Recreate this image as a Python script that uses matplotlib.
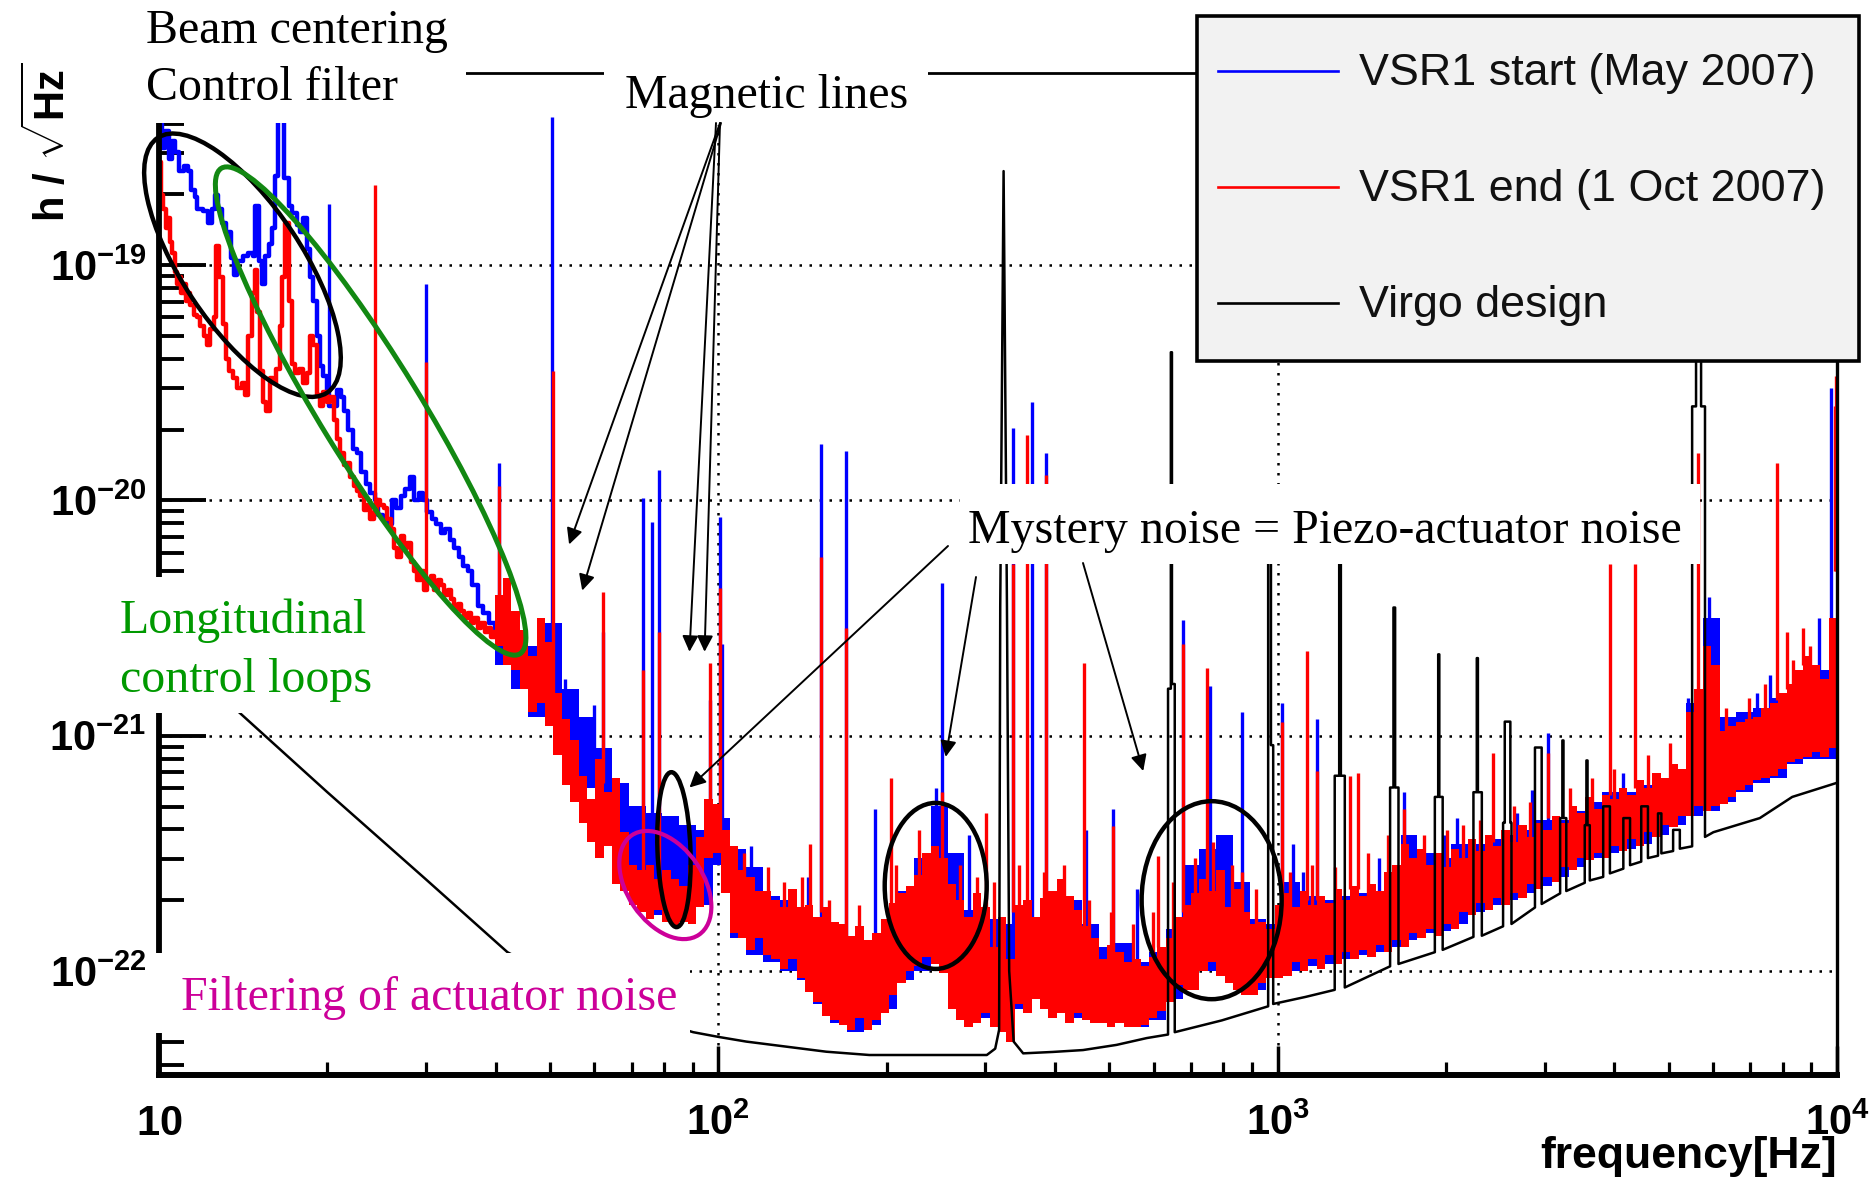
import numpy as np
import matplotlib
matplotlib.use("Agg")
import matplotlib.pyplot as plt
import matplotlib.transforms as mtransforms
from matplotlib.patches import Ellipse, Rectangle
from matplotlib.ticker import FixedLocator, FuncFormatter, LogLocator, NullFormatter

# ---------------------------------------------------------------------------
# Strain sensitivity data, stored as (log10 f [Hz], log10 h [1/sqrt(Hz)])
# ---------------------------------------------------------------------------

# VSR1 start (May 2007), low-frequency part
blue_lf = [
    (1.000, -18.40), (1.006, -18.50), (1.011, -18.43), (1.017, -18.55), (1.023, -18.47),
    (1.029, -18.52), (1.035, -18.60), (1.044, -18.58), (1.052, -18.60), (1.058, -18.68),
    (1.064, -18.71), (1.068, -18.76), (1.078, -18.77), (1.088, -18.82), (1.094, -18.76),
    (1.100, -18.70), (1.106, -18.76), (1.112, -18.82), (1.120, -18.86), (1.128, -18.97),
    (1.134, -19.04), (1.140, -18.98), (1.150, -18.96), (1.160, -18.95), (1.168, -18.96),
    (1.172, -18.75), (1.178, -18.98), (1.184, -19.08), (1.190, -18.96), (1.196, -18.91),
    (1.202, -18.84), (1.208, -18.62), (1.212, -18.37), (1.220, -18.37), (1.224, -18.63),
    (1.232, -18.75), (1.238, -18.78), (1.246, -18.83), (1.252, -18.86), (1.258, -18.80),
    (1.264, -18.93), (1.270, -19.05), (1.276, -19.15), (1.282, -19.30), (1.288, -19.43),
    (1.294, -19.47), (1.300, -19.55), (1.304, -19.60), (1.310, -19.60), (1.318, -19.53),
    (1.325, -19.56), (1.330, -19.62), (1.338, -19.70), (1.346, -19.78), (1.354, -19.80),
    (1.362, -19.88), (1.370, -19.93), (1.378, -19.97), (1.386, -20.00), (1.392, -20.06),
    (1.400, -20.08), (1.408, -20.10), (1.416, -20.00), (1.424, -20.03), (1.432, -19.98),
    (1.440, -19.95), (1.448, -19.90), (1.456, -20.00), (1.464, -19.97), (1.472, -20.00),
    (1.480, -20.05), (1.488, -20.08), (1.496, -20.10), (1.504, -20.14), (1.512, -20.12),
    (1.520, -20.17), (1.528, -20.20), (1.536, -20.24), (1.544, -20.28), (1.552, -20.30),
    (1.560, -20.36), (1.570, -20.45), (1.580, -20.48), (1.590, -20.52), (1.600, -20.56),
]

# VSR1 end (1 Oct 2007), low-frequency part
red_lf = [
    (1.000, -18.56), (1.004, -18.70), (1.008, -18.76), (1.012, -18.84), (1.016, -18.80),
    (1.020, -18.90), (1.024, -18.95), (1.028, -19.03), (1.032, -19.08), (1.036, -19.05),
    (1.040, -19.12), (1.044, -19.08), (1.048, -19.15), (1.052, -19.12), (1.056, -19.17),
    (1.062, -19.21), (1.068, -19.22), (1.074, -19.26), (1.080, -19.30), (1.086, -19.34),
    (1.092, -19.27), (1.098, -19.22), (1.102, -18.92), (1.108, -19.05), (1.114, -19.25),
    (1.120, -19.40), (1.126, -19.45), (1.132, -19.48), (1.140, -19.52), (1.148, -19.50),
    (1.154, -19.55), (1.160, -19.30), (1.166, -19.12), (1.172, -19.02), (1.176, -19.20),
    (1.180, -19.45), (1.186, -19.58), (1.192, -19.62), (1.198, -19.48), (1.204, -19.50),
    (1.210, -19.44), (1.216, -19.26), (1.220, -19.05), (1.226, -18.82), (1.232, -19.15),
    (1.238, -19.42), (1.244, -19.46), (1.250, -19.44), (1.258, -19.50), (1.264, -19.46),
    (1.270, -19.30), (1.276, -19.34), (1.282, -19.55), (1.288, -19.60), (1.294, -19.54),
    (1.300, -19.58), (1.306, -19.56), (1.312, -19.66), (1.318, -19.74), (1.324, -19.80),
    (1.330, -19.85), (1.336, -19.84), (1.342, -19.90), (1.348, -19.94), (1.354, -19.96),
    (1.360, -19.98), (1.366, -20.04), (1.372, -20.02), (1.378, -20.08), (1.384, -20.05),
    (1.390, -20.00), (1.396, -20.02), (1.402, -20.03), (1.408, -20.08), (1.414, -20.12),
    (1.420, -20.20), (1.426, -20.24), (1.432, -20.15), (1.438, -20.20), (1.444, -20.18),
    (1.450, -20.26), (1.456, -20.30), (1.462, -20.34), (1.468, -20.30), (1.474, -20.38),
    (1.480, -20.34), (1.486, -20.32), (1.492, -20.38), (1.498, -20.34), (1.504, -20.36),
    (1.510, -20.40), (1.516, -20.38), (1.522, -20.42), (1.528, -20.46), (1.534, -20.44),
    (1.540, -20.47), (1.546, -20.50), (1.552, -20.48), (1.558, -20.52), (1.564, -20.50),
    (1.570, -20.54), (1.576, -20.52), (1.582, -20.56), (1.588, -20.54), (1.594, -20.58),
    (1.600, -20.56),
]

# VSR1 start, dense high-frequency part: (log f, upper edge, lower edge)
blue_band = [
    (1.60, -20.50, -20.70), (1.63, -20.55, -20.80), (1.66, -20.62, -20.92), (1.69, -20.52, -20.92),
    (1.72, -20.80, -21.12), (1.75, -20.92, -21.22), (1.78, -21.05, -21.35), (1.81, -21.20, -21.50),
    (1.84, -21.30, -21.70), (1.87, -21.33, -21.76), (1.90, -21.34, -21.78), (1.93, -21.38, -21.78),
    (1.96, -21.40, -21.72), (1.99, -21.35, -21.55), (2.02, -21.48, -21.86), (2.05, -21.56, -21.93),
    (2.08, -21.68, -21.96), (2.11, -21.70, -22.00), (2.14, -21.76, -22.04), (2.17, -21.80, -22.14),
    (2.20, -21.82, -22.22), (2.23, -21.86, -22.26), (2.26, -21.88, -22.23), (2.29, -21.80, -22.16),
    (2.32, -21.66, -22.04), (2.35, -21.52, -22.00), (2.38, -21.30, -21.97), (2.41, -21.50, -22.14),
    (2.44, -21.74, -22.22), (2.47, -21.78, -22.20), (2.50, -21.80, -22.24), (2.53, -21.76, -22.16),
    (2.56, -21.78, -22.12), (2.59, -21.70, -22.18), (2.62, -21.70, -22.20), (2.65, -21.80, -22.20),
    (2.68, -21.90, -22.22), (2.71, -21.88, -22.22), (2.74, -21.96, -22.24), (2.77, -21.92, -22.21),
    (2.80, -21.82, -22.12), (2.83, -21.55, -22.06), (2.86, -21.48, -22.00), (2.89, -21.42, -21.98),
    (2.92, -21.62, -22.06), (2.95, -21.78, -22.08), (2.98, -21.80, -22.03), (3.01, -21.62, -22.00),
    (3.04, -21.68, -21.98), (3.07, -21.70, -21.97), (3.10, -21.68, -21.95), (3.13, -21.67, -21.93),
    (3.16, -21.66, -21.92), (3.19, -21.60, -21.90), (3.22, -21.42, -21.87), (3.25, -21.50, -21.84),
    (3.28, -21.52, -21.83), (3.31, -21.46, -21.80), (3.34, -21.46, -21.75), (3.37, -21.44, -21.72),
    (3.40, -21.42, -21.70), (3.43, -21.40, -21.67), (3.46, -21.36, -21.64), (3.49, -21.36, -21.60),
    (3.52, -21.32, -21.56), (3.55, -21.28, -21.52), (3.58, -21.24, -21.50), (3.61, -21.24, -21.48),
    (3.64, -21.21, -21.46), (3.67, -21.18, -21.42), (3.70, -21.14, -21.38), (3.73, -20.86, -21.34),
    (3.76, -20.50, -21.32), (3.79, -20.92, -21.28), (3.82, -20.90, -21.24), (3.85, -20.88, -21.20),
    (3.88, -20.84, -21.18), (3.91, -20.80, -21.12), (3.94, -20.70, -21.10), (3.97, -20.72, -21.10),
    (4.00, -20.20, -21.00),
]

# VSR1 end, dense high-frequency part: (log f, upper edge, lower edge)
red_band = [
    (1.600, -20.40, -20.62), (1.615, -20.33, -20.70), (1.630, -20.47, -20.72), (1.645, -20.55, -20.80),
    (1.660, -20.66, -20.90), (1.675, -20.50, -20.86), (1.690, -20.60, -20.96), (1.705, -20.82, -21.08),
    (1.720, -20.93, -21.21), (1.735, -21.02, -21.28), (1.750, -21.17, -21.37), (1.765, -21.27, -21.45),
    (1.780, -21.10, -21.52), (1.795, -21.24, -21.47), (1.810, -21.18, -21.63), (1.825, -21.41, -21.66),
    (1.840, -21.55, -21.72), (1.855, -21.57, -21.75), (1.870, -21.55, -21.78), (1.885, -21.61, -21.74),
    (1.900, -21.57, -21.79), (1.915, -21.61, -21.81), (1.930, -21.64, -21.79), (1.945, -21.55, -21.80),
    (1.960, -21.43, -21.73), (1.975, -21.27, -21.52), (1.990, -21.29, -21.50), (2.005, -21.40, -21.67),
    (2.020, -21.47, -21.84), (2.035, -21.57, -21.86), (2.050, -21.60, -21.91), (2.065, -21.66, -21.86),
    (2.080, -21.66, -21.93), (2.095, -21.70, -21.95), (2.110, -21.73, -21.99), (2.125, -21.65, -21.95),
    (2.140, -21.73, -22.03), (2.155, -21.72, -22.09), (2.170, -21.77, -22.13), (2.185, -21.73, -22.19),
    (2.200, -21.79, -22.21), (2.215, -21.80, -22.23), (2.230, -21.85, -22.25), (2.245, -21.81, -22.20),
    (2.260, -21.87, -22.25), (2.275, -21.84, -22.21), (2.290, -21.78, -22.18), (2.305, -21.71, -22.10),
    (2.320, -21.67, -22.05), (2.335, -21.64, -22.00), (2.350, -21.59, -21.98), (2.365, -21.50, -21.94),
    (2.380, -21.47, -21.97), (2.395, -21.52, -22.01), (2.410, -21.63, -22.16), (2.425, -21.70, -22.21),
    (2.440, -21.77, -22.24), (2.455, -21.67, -22.22), (2.470, -21.73, -22.18), (2.485, -21.90, -22.24),
    (2.500, -21.77, -22.26), (2.515, -21.95, -22.30), (2.530, -21.72, -22.14), (2.545, -21.70, -22.18),
    (2.560, -21.77, -22.12), (2.575, -21.69, -22.16), (2.590, -21.66, -22.20), (2.605, -21.61, -22.18),
    (2.620, -21.68, -22.22), (2.635, -21.74, -22.18), (2.650, -21.81, -22.21), (2.665, -21.86, -22.22),
    (2.680, -21.95, -22.22), (2.695, -21.89, -22.24), (2.710, -21.92, -22.22), (2.725, -21.96, -22.24),
    (2.740, -21.95, -22.24), (2.755, -21.98, -22.23), (2.770, -21.94, -22.20), (2.785, -21.90, -22.17),
    (2.800, -21.86, -22.13), (2.815, -21.77, -22.06), (2.830, -21.72, -22.08), (2.845, -21.67, -22.08),
    (2.860, -21.61, -22.00), (2.875, -21.66, -21.96), (2.890, -21.57, -22.02), (2.905, -21.73, -22.05),
    (2.920, -21.65, -22.08), (2.935, -21.75, -22.10), (2.950, -21.80, -22.10), (2.965, -21.79, -22.05),
    (2.980, -21.82, -22.03), (2.995, -21.72, -22.03), (3.010, -21.67, -22.02), (3.025, -21.73, -21.96),
    (3.040, -21.66, -22.00), (3.055, -21.72, -21.95), (3.070, -21.68, -21.99), (3.085, -21.71, -21.93),
    (3.100, -21.65, -21.97), (3.115, -21.70, -21.92), (3.130, -21.64, -21.95), (3.145, -21.68, -21.91),
    (3.160, -21.63, -21.94), (3.175, -21.66, -21.89), (3.190, -21.58, -21.92), (3.205, -21.55, -21.87),
    (3.220, -21.46, -21.90), (3.235, -21.52, -21.84), (3.250, -21.48, -21.86), (3.265, -21.55, -21.82),
    (3.280, -21.50, -21.85), (3.295, -21.56, -21.80), (3.310, -21.48, -21.82), (3.325, -21.52, -21.75),
    (3.340, -21.44, -21.76), (3.355, -21.49, -21.71), (3.370, -21.42, -21.74), (3.385, -21.47, -21.69),
    (3.400, -21.40, -21.72), (3.415, -21.45, -21.67), (3.430, -21.38, -21.69), (3.445, -21.43, -21.63),
    (3.460, -21.37, -21.65), (3.475, -21.40, -21.60), (3.490, -21.34, -21.62), (3.505, -21.37, -21.56),
    (3.520, -21.30, -21.57), (3.535, -21.33, -21.52), (3.550, -21.26, -21.53), (3.565, -21.31, -21.50),
    (3.580, -21.25, -21.52), (3.595, -21.27, -21.47), (3.610, -21.22, -21.49), (3.625, -21.25, -21.44),
    (3.640, -21.19, -21.47), (3.655, -21.22, -21.41), (3.670, -21.16, -21.43), (3.685, -21.18, -21.38),
    (3.700, -21.12, -21.39), (3.715, -21.14, -21.34), (3.730, -20.90, -21.34), (3.745, -20.80, -21.30),
    (3.760, -20.62, -21.32), (3.775, -20.70, -21.30), (3.790, -20.98, -21.29), (3.805, -20.96, -21.26),
    (3.820, -20.94, -21.23), (3.835, -20.93, -21.21), (3.850, -20.92, -21.19), (3.865, -20.88, -21.18),
    (3.880, -20.86, -21.17), (3.895, -20.82, -21.14), (3.910, -20.78, -21.11), (3.925, -20.72, -21.10),
    (3.940, -20.66, -21.09), (3.955, -20.70, -21.07), (3.970, -20.76, -21.09), (3.985, -20.50, -21.05),
    (4.000, -20.23, -20.98),
]

# Narrow lines: (log f, foot, peak)
blue_lines = [
    (1.304, -19.55, -18.74), (1.478, -20.05, -19.08), (1.607, -20.55, -19.84), (1.702, -20.80, -18.37),
    (1.726, -20.95, -20.76), (1.777, -21.10, -20.87), (1.794, -21.15, -20.56), (1.866, -21.50, -19.99),
    (1.882, -21.50, -20.09), (1.894, -21.50, -19.87), (1.985, -21.40, -20.85), (2.003, -21.40, -20.07),
    (2.007, -21.45, -20.61), (2.034, -21.60, -21.49), (2.058, -21.65, -21.47), (2.161, -21.80, -21.60),
    (2.183, -21.80, -19.76), (2.228, -21.90, -19.79), (2.280, -21.90, -21.31), (2.390, -21.60, -21.22),
    (2.400, -21.60, -20.35), (2.448, -21.80, -21.42), (2.527, -21.80, -19.69), (2.561, -21.80, -19.58),
    (2.585, -21.70, -19.80), (2.658, -21.80, -21.40), (2.706, -21.90, -21.31), (2.748, -21.95, -21.65),
    (2.831, -21.80, -20.51), (2.879, -21.70, -20.79), (2.937, -21.80, -20.90), (3.007, -21.75, -20.86),
    (3.028, -21.75, -21.46), (3.070, -21.72, -20.93), (3.225, -21.55, -21.24), (3.320, -21.50, -21.35),
    (3.454, -21.40, -21.23), (3.484, -21.40, -20.99), (3.734, -21.15, -20.84), (3.771, -20.80, -20.41),
    (3.857, -20.95, -20.82), (3.880, -20.90, -20.74), (3.968, -20.80, -20.50), (3.990, -20.60, -19.52),
    (3.046, -21.80, -21.58), (3.182, -21.75, -21.52), (3.297, -21.65, -21.42), (3.428, -21.55, -21.33),
    (3.618, -21.40, -21.16),
]
red_lines = [
    (1.386, -20.05, -18.66), (1.478, -20.35, -19.41), (1.607, -20.50, -19.94), (1.704, -20.90, -19.45),
    (1.794, -21.20, -20.39), (1.866, -21.60, -20.72), (1.894, -21.60, -20.56), (1.985, -21.40, -20.69),
    (2.003, -21.40, -20.37), (2.164, -21.75, -21.46), (2.183, -21.75, -20.24), (2.228, -21.85, -20.54),
    (2.308, -21.75, -21.18), (2.400, -21.55, -21.24), (2.479, -21.75, -21.33), (2.527, -21.75, -20.27),
    (2.551, -21.75, -19.72), (2.585, -21.70, -19.89), (2.654, -21.85, -20.69), (2.706, -21.92, -21.385),
    (2.786, -21.90, -21.51), (2.831, -21.75, -20.61), (2.873, -21.70, -20.71), (2.936, -21.75, -21.58),
    (3.007, -21.70, -20.94), (3.052, -21.70, -20.64), (3.070, -21.70, -21.15), (3.129, -21.65, -21.17),
    (3.144, -21.65, -21.16), (3.225, -21.50, -21.31), (3.385, -21.45, -21.075), (3.484, -21.35, -21.075),
    (3.594, -21.25, -20.27), (3.639, -21.22, -20.27), (3.752, -20.80, -19.80), (3.892, -20.85, -19.84),
    (3.910, -20.80, -20.56), (3.939, -20.70, -20.54), (3.996, -20.30, -19.60), (3.999, -20.30, -19.47),
    # smaller excursions above the noise floor
    (2.045, -21.75, -21.50), (2.088, -21.80, -21.56), (2.118, -21.85, -21.62), (2.150, -21.85, -21.60),
    (2.198, -21.95, -21.70), (2.252, -21.98, -21.72), (2.318, -21.85, -21.55), (2.358, -21.75, -21.40),
    (2.432, -21.90, -21.55), (2.462, -21.95, -21.60), (2.492, -21.95, -21.62), (2.538, -21.90, -21.55),
    (2.582, -21.90, -21.58), (2.618, -21.90, -21.55), (2.662, -22.00, -21.70), (2.702, -22.05, -21.75),
    (2.742, -22.05, -21.80), (2.778, -22.05, -21.75), (2.812, -21.95, -21.62), (2.852, -21.85, -21.52),
    (2.884, -21.80, -21.45), (2.918, -21.85, -21.55), (2.962, -21.95, -21.65), (3.022, -21.88, -21.58),
    (3.062, -21.85, -21.55), (3.102, -21.85, -21.56), (3.162, -21.80, -21.50), (3.198, -21.75, -21.42),
    (3.262, -21.70, -21.42), (3.302, -21.70, -21.40), (3.332, -21.68, -21.38), (3.362, -21.66, -21.36),
    (3.422, -21.60, -21.30), (3.452, -21.58, -21.28), (3.522, -21.50, -21.22), (3.562, -21.46, -21.18),
    (3.602, -21.42, -21.14), (3.662, -21.36, -21.08), (3.702, -21.30, -21.03), (3.802, -21.15, -20.88),
    (3.842, -21.10, -20.84), (3.872, -21.05, -20.78), (3.922, -21.00, -20.68), (3.952, -20.95, -20.62),
]

# Virgo design sensitivity, including its resonance lines
design = [
    (1.000, -20.60), (1.143, -20.90), (1.301, -21.24), (1.477, -21.61), (1.623, -21.92),
    (1.800, -22.15), (1.955, -22.26), (2.000, -22.28), (2.050, -22.30), (2.193, -22.343),
    (2.270, -22.357), (2.480, -22.357), (2.495, -22.33), (2.502, -22.25), (2.504, -20.45),
    (2.510, -18.60), (2.516, -20.45), (2.520, -22.00), (2.528, -22.30), (2.545, -22.35),
    (2.598, -22.344), (2.652, -22.336), (2.712, -22.314), (2.766, -22.285),
    (2.804, -22.27), (2.804, -20.80), (2.809, -20.80), (2.809, -19.37), (2.811, -19.37),
    (2.811, -20.78), (2.816, -20.78), (2.816, -22.26), (2.900, -22.21),
    (2.983, -22.15), (2.983, -20.05), (2.988, -20.05), (2.988, -21.04), (2.992, -21.04),
    (2.992, -22.14), (3.050, -22.11),
    (3.102, -22.08), (3.102, -21.17), (3.110, -21.17), (3.110, -20.10), (3.113, -20.10),
    (3.113, -21.17), (3.120, -21.17), (3.120, -22.07),
    (3.201, -21.98), (3.201, -21.22), (3.207, -21.22), (3.207, -20.455), (3.210, -20.455),
    (3.210, -21.22), (3.216, -21.22), (3.216, -21.97),
    (3.281, -21.92), (3.281, -21.26), (3.287, -21.26), (3.287, -20.654), (3.289, -20.654),
    (3.289, -21.26), (3.295, -21.26), (3.295, -21.91),
    (3.350, -21.855), (3.350, -21.24), (3.356, -21.24), (3.356, -20.67), (3.358, -20.67),
    (3.358, -21.24), (3.365, -21.24), (3.365, -21.85),
    (3.403, -21.81), (3.403, -21.37), (3.406, -21.37), (3.406, -20.94), (3.416, -20.94),
    (3.416, -21.37), (3.418, -21.37), (3.418, -21.80),
    (3.460, -21.73), (3.460, -21.05), (3.472, -21.05), (3.472, -21.715),
    (3.505, -21.67), (3.505, -21.35), (3.509, -21.35), (3.509, -21.02), (3.511, -21.02),
    (3.511, -21.35), (3.516, -21.35), (3.516, -21.66),
    (3.549, -21.625), (3.549, -21.38), (3.552, -21.38), (3.552, -21.105), (3.554, -21.105),
    (3.554, -21.38), (3.558, -21.38), (3.558, -21.615),
    (3.582, -21.60), (3.582, -21.30), (3.594, -21.30), (3.594, -21.585),
    (3.618, -21.565), (3.618, -21.35), (3.630, -21.35), (3.630, -21.55),
    (3.650, -21.535), (3.650, -21.30), (3.662, -21.30), (3.662, -21.52),
    (3.680, -21.51), (3.680, -21.33), (3.686, -21.33), (3.686, -21.50),
    (3.707, -21.49), (3.707, -21.40), (3.719, -21.40), (3.719, -21.48),
    (3.741, -21.47), (3.741, -19.60), (3.748, -19.60), (3.748, -18.45), (3.757, -18.45),
    (3.757, -19.60), (3.764, -19.60), (3.764, -21.43),
    (3.779, -21.41), (3.862, -21.35), (3.920, -21.26), (4.000, -21.20),
]

legend_labels = ["VSR1 start (May 2007)", "VSR1 end (1 Oct 2007)", "Virgo design"]
x_ticks = [10, 100, 1000, 10000]
x_tick_labels = [r"$10$", r"$10^{2}$", r"$10^{3}$", r"$10^{4}$"]
y_ticks = [1e-22, 1e-21, 1e-20, 1e-19]

# ---------------------------------------------------------------------------
BLUE, RED, GREEN_RING, GREEN_TXT, MAGENTA = "#0000ff", "#ff0000", "#128812", "#009900", "#cc0099"
W, H, DPI = 1873, 1178, 100

plt.rcParams["font.family"] = ["Liberation Sans", "DejaVu Sans"]
plt.rcParams["mathtext.fontset"] = "custom"
for key in ("rm", "it", "bf", "sf"):
    plt.rcParams["mathtext." + key] = "Liberation Sans:bold"


def lin(v):
    return 10.0 ** np.asarray(v, dtype=float)


fig = plt.figure(figsize=(W / DPI, H / DPI), dpi=DPI)
fig.patch.set_facecolor("white")
ax = fig.add_axes([159 / W, 1 - 1075 / H, (1837 - 159) / W, (1075 - 73) / H])
ax.set_xscale("log")
ax.set_yscale("log")
ax.set_xlim(10, 1e4)
ax.set_ylim(10 ** -22.442, 10 ** -18.183)

# spectra: start of run underneath, end of run on top, design last
bl, rl = np.array(blue_lf), np.array(red_lf)
bb, rb = np.array(blue_band), np.array(red_band)
bs, rs = np.array(blue_lines), np.array(red_lines)
dz = np.array(design)

ax.fill_between(lin(bb[:, 0]), lin(bb[:, 2]), lin(bb[:, 1]), step="post",
                color=BLUE, lw=0, zorder=1.1)
ax.step(lin(bl[:, 0]), lin(bl[:, 1]), where="post", color=BLUE, lw=3.2, zorder=1.2)
ax.vlines(lin(bs[:, 0]), lin(bs[:, 1]), lin(bs[:, 2]), colors=BLUE, lw=2.4, zorder=1.25)

ax.fill_between(lin(rb[:, 0]), lin(rb[:, 2]), lin(rb[:, 1]), step="post",
                color=RED, lw=0, zorder=1.4)
ax.step(lin(rl[:, 0]), lin(rl[:, 1]), where="post", color=RED, lw=3.2, zorder=1.5)
ax.vlines(lin(rs[:, 0]), lin(rs[:, 1]), lin(rs[:, 2]), colors=RED, lw=2.4, zorder=1.55)

ax.plot(lin(dz[:, 0]), lin(dz[:, 1]), color="black", lw=1.8, zorder=1.8)

# grid, ticks and frame
ax.set_axisbelow(True)
ax.grid(True, which="major", color="black", ls=(0, (1, 3)), lw=1.8)
ax.grid(False, which="minor")
ax.xaxis.set_major_locator(FixedLocator(x_ticks))
ax.xaxis.set_major_formatter(FuncFormatter(lambda v, p: x_tick_labels[x_ticks.index(int(round(v)))]
                                           if int(round(v)) in x_ticks else ""))
ax.xaxis.set_minor_locator(LogLocator(base=10, subs=np.arange(2, 10), numticks=60))
ax.xaxis.set_minor_formatter(NullFormatter())
ax.yaxis.set_major_locator(FixedLocator(y_ticks))
ax.yaxis.set_major_formatter(FuncFormatter(lambda v, p: r"$10^{%d}$" % int(round(np.log10(v)))))
ax.yaxis.set_minor_locator(LogLocator(base=10, subs=np.arange(2, 10), numticks=60))
ax.yaxis.set_minor_formatter(NullFormatter())

ax.tick_params(axis="y", which="major", direction="in", length=34, width=2.8,
               left=True, right=False, labelsize=30, pad=9)
ax.tick_params(axis="y", which="minor", direction="in", length=18, width=2.8, left=True, right=False)
ax.tick_params(axis="x", which="major", direction="in", length=21, width=2.5,
               bottom=True, top=False, labelsize=30, pad=43)
ax.tick_params(axis="x", which="minor", direction="in", length=9.5, width=2.3, bottom=True, top=False)
for lab in ax.get_xticklabels():
    lab.set_verticalalignment("baseline")

ax.spines["left"].set_linewidth(4.2)
ax.spines["bottom"].set_linewidth(4.3)
ax.spines["top"].set_linewidth(2.0)
ax.spines["right"].set_linewidth(2.4)


# hand-drawn style rings around the noise features (sizes in pixels)
def ring(f, h, w, hgt, ang, color, lw):
    tr = mtransforms.ScaledTranslation(f, h, ax.transData)
    ax.add_patch(Ellipse((0, 0), w, hgt, angle=ang, transform=tr, fill=False,
                         ec=color, lw=lw, clip_on=False, zorder=6))


ring(14.1, 1.0e-19, 306, 120, -56.4, "black", 3.2)
ring(23.9, 2.4e-20, 570, 100, -58.4, GREEN_RING, 3.6)
ring(83.3, 3.28e-22, 33, 155, 2, "black", 3.2)
ring(80.4, 2.32e-22, 120, 76, -56, MAGENTA, 3.0)
ring(244.7, 2.30e-22, 102, 166, 0, "black", 3.2)
ring(762.0, 2.0e-22, 140, 198, 0, "black", 3.2)

# axis titles
fig.text(49 / W, 1 - 142.5 / H, r"$h\ /\ \sqrt{Hz}$", rotation=90, ha="center", va="center", fontsize=30)
fig.text(1837 / W, 1 - 1168 / H, "frequency[Hz]", ha="right", va="baseline",
         fontsize=32, fontweight="bold")

# annotation layer in pixel coordinates
ov = fig.add_axes([0, 0, 1, 1], zorder=10)
ov.set_xlim(0, W)
ov.set_ylim(H, 0)
ov.axis("off")

for x0, y0, w, h in [(126, 0, 340, 123), (604, 48, 324, 77), (960, 484, 740, 80),
                     (105, 577, 295, 136), (150, 953, 540, 80)]:
    ov.add_patch(Rectangle((x0, y0), w, h, fc="white", ec="none", zorder=1))

serif = dict(family="Liberation Serif", fontsize=34.5, ha="left", va="baseline", zorder=3)
ov.text(146, 43, "Beam centering", color="black", **serif)
ov.text(146, 100, "Control filter", color="black", **serif)
ov.text(625, 108, "Magnetic lines", color="black", **serif)
ov.text(968, 543, "Mystery noise = Piezo-actuator noise", color="black", **serif)
ov.text(120, 633, "Longitudinal", color=GREEN_TXT, **serif)
ov.text(120, 692, "control loops", color=GREEN_TXT, **serif)
ov.text(181, 1010, "Filtering of actuator noise", color=MAGENTA, **serif)

arrow = dict(arrowstyle="-|>", color="black", lw=1.4, mutation_scale=24, shrinkA=0, shrinkB=0)
for (f, h), start in [((54.1, 10 ** -20.187), (720, 123)), ((57.1, 10 ** -20.383), (721, 123)),
                      ((88.8, 10 ** -20.643), (716, 123)), ((94.5, 10 ** -20.643), (720, 123)),
                      ((88.8, 10 ** -21.22), (948, 546)), ((255.0, 10 ** -21.09), (976, 577)),
                      ((575.0, 10 ** -21.15), (1083, 563))]:
    ov.annotate("", xy=(f, h), xycoords=ax.transData, xytext=start, textcoords="data",
                arrowprops=arrow, zorder=4)

# legend box
ov.add_patch(Rectangle((1197, 16), 662, 345, fc="#f2f2f2", ec="black", lw=2.6, zorder=5))
for i, (lab, col) in enumerate(zip(legend_labels, [BLUE, RED, "black"])):
    y = 71 + 116 * i
    ov.plot([1218, 1338], [y, y], color=col, lw=1.9, zorder=6)
    ov.text(1359, y + 14, lab, fontsize=32.3, color="#111111", ha="left", va="baseline",
            family="Liberation Sans", zorder=6)

fig.savefig("out.png", dpi=DPI, facecolor="white")
